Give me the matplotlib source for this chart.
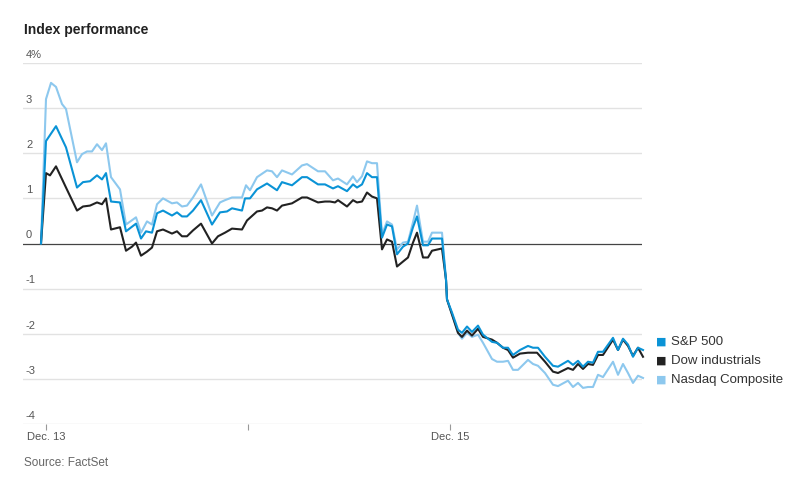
import matplotlib
matplotlib.use("Agg")
import matplotlib.pyplot as plt

plt.rcParams["font.family"] = ["Liberation Sans", "DejaVu Sans"]

# session clock: 202 units per trading session, Dec. 13 open at 46
SESSION_TICKS = [46, 248, 450]
SESSION_LABELS = ["Dec. 13", "", "Dec. 15"]
YTICKS = [4, 3, 2, 1, 0, -1, -2, -3, -4]

sp_t = [41, 46, 56, 66, 77, 83, 90, 97, 102, 106, 111, 120, 126, 136, 141, 146, 152, 157, 163, 172,
        177, 182, 187, 193, 201, 212, 220, 227, 232, 242, 245, 250, 257, 267, 277, 282, 292, 302, 307,
        318, 325, 333, 338, 347, 353, 357, 362, 367, 372, 377, 382, 387, 392, 397, 403, 408, 413, 417,
        423, 428, 432, 442, 446, 447, 452, 458, 462, 467, 472, 478, 483, 492, 497, 503, 508, 513, 520,
        528, 533, 538, 545, 553, 558, 568, 573, 578, 583, 588, 593, 598, 603, 613, 618, 623, 628, 633,
        638, 643]
sp_v = [0, 2.27, 2.6, 2.13, 1.24, 1.36, 1.38, 1.51, 1.42, 1.56, 0.93, 0.91, 0.27, 0.44, 0.11, 0.27,
        0.24, 0.67, 0.73, 0.62, 0.69, 0.6, 0.6, 0.73, 0.96, 0.42, 0.69, 0.71, 0.78, 0.73, 1.0, 1.0,
        1.2, 1.33, 1.18, 1.36, 1.29, 1.47, 1.47, 1.31, 1.31, 1.22, 1.27, 1.16, 1.31, 1.24, 1.31, 1.56,
        1.47, 1.47, 0.13, 0.42, 0.38, -0.24, -0.07, 0, 0.36, 0.6, -0.04, -0.04, 0.11, 0.11, -0.8,
        -1.24, -1.53, -1.91, -1.98, -1.84, -1.96, -1.82, -2.02, -2.18, -2.2, -2.31, -2.31, -2.47,
        -2.36, -2.27, -2.31, -2.31, -2.51, -2.71, -2.73, -2.6, -2.69, -2.6, -2.73, -2.62, -2.64, -2.4,
        -2.4, -2.09, -2.36, -2.11, -2.24, -2.51, -2.31, -2.36]

dow_t = [41, 46, 50, 56, 66, 77, 83, 90, 97, 102, 106, 111, 120, 126, 132, 136, 141, 147, 152, 157,
         163, 172, 177, 182, 187, 193, 201, 212, 218, 225, 232, 242, 247, 257, 262, 267, 272, 277, 282,
         292, 302, 307, 318, 325, 330, 335, 338, 347, 353, 357, 362, 367, 372, 377, 382, 387, 392, 397,
         403, 408, 413, 417, 423, 428, 432, 442, 446, 447, 453, 458, 462, 467, 472, 478, 483, 492, 497,
         503, 508, 513, 520, 528, 537, 545, 553, 558, 568, 573, 578, 583, 588, 593, 598, 603, 613, 618,
         623, 628, 633, 638, 643]
dow_v = [0, 1.56, 1.51, 1.71, 1.24, 0.73, 0.82, 0.84, 0.91, 0.87, 1.0, 0.31, 0.36, -0.16, -0.07,
         0.02, -0.27, -0.18, -0.09, 0.27, 0.31, 0.22, 0.27, 0.16, 0.16, 0.29, 0.44, 0.0, 0.16, 0.24,
         0.33, 0.31, 0.51, 0.71, 0.73, 0.8, 0.78, 0.73, 0.84, 0.89, 1.02, 1.02, 0.91, 0.93, 0.93, 0.91,
         0.96, 0.82, 0.96, 0.91, 0.93, 1.13, 1.04, 1.0, -0.13, 0.09, 0.04, -0.51, -0.4, -0.31, 0.02,
         0.24, -0.31, -0.31, -0.16, -0.11, -0.8, -1.24, -1.64, -1.98, -2.07, -1.93, -2.04, -1.89,
         -2.07, -2.13, -2.2, -2.31, -2.36, -2.53, -2.44, -2.42, -2.42, -2.62, -2.84, -2.87, -2.76,
         -2.8, -2.67, -2.78, -2.67, -2.69, -2.47, -2.47, -2.13, -2.36, -2.13, -2.27, -2.49, -2.31,
         -2.51]

nq_t = [41, 46, 51, 56, 62, 66, 77, 82, 87, 92, 97, 102, 106, 111, 120, 126, 136, 141, 147, 152, 157,
        163, 172, 177, 182, 187, 193, 201, 212, 220, 225, 232, 242, 246, 250, 257, 267, 272, 277, 282,
        292, 302, 307, 318, 325, 333, 338, 347, 353, 357, 362, 367, 372, 377, 382, 387, 392, 397, 403,
        408, 413, 417, 423, 428, 432, 442, 446, 447, 453, 458, 462, 467, 472, 478, 483, 492, 497, 503,
        508, 513, 518, 528, 533, 538, 545, 553, 558, 568, 573, 578, 583, 588, 593, 598, 603, 613, 618,
        623, 628, 633, 638, 643]
nq_v = [0, 3.2, 3.56, 3.47, 3.09, 2.98, 1.8, 1.98, 2.04, 2.04, 2.2, 2.07, 2.22, 1.47, 1.2, 0.42,
        0.58, 0.24, 0.49, 0.42, 0.87, 1.0, 0.89, 0.91, 0.82, 0.84, 1.02, 1.31, 0.62, 0.91, 0.96, 1.02,
        1.02, 1.29, 1.18, 1.47, 1.62, 1.6, 1.47, 1.62, 1.53, 1.73, 1.76, 1.6, 1.6, 1.4, 1.44, 1.31,
        1.49, 1.36, 1.49, 1.82, 1.78, 1.78, 0.2, 0.49, 0.42, -0.13, 0.02, 0.04, 0.47, 0.84, 0.04, 0.04,
        0.24, 0.24, -0.8, -1.24, -1.64, -1.98, -2.11, -1.98, -2.07, -2.02, -2.2, -2.56, -2.62, -2.62,
        -2.6, -2.8, -2.8, -2.58, -2.67, -2.71, -2.87, -3.13, -3.16, -3.04, -3.18, -3.09, -3.2, -3.18,
        -3.18, -2.91, -2.96, -2.62, -2.91, -2.67, -2.87, -3.09, -2.93, -2.98]

SERIES = [
    ("S&P 500", sp_t, sp_v, "#0a93d6"),
    ("Dow industrials", dow_t, dow_v, "#222222"),
    ("Nasdaq Composite", nq_t, nq_v, "#8dc8ee"),
]

W, H = 800, 483
fig = plt.figure(figsize=(W / 100, H / 100), dpi=100)
ax = fig.add_axes([23 / W, (H - 424) / H, (642 - 23) / W, (424 - 63) / H])
ax.set_xlim(23, 642)
ax.set_ylim(-4, 4)
for s in ax.spines.values():
    s.set_visible(False)
ax.set_yticks([])
ax.set_xticks(SESSION_TICKS)
ax.set_xticklabels(SESSION_LABELS)
ax.tick_params(axis="x", length=4, color="#999999", labelcolor="#555555", labelsize=8, pad=2)

for y in YTICKS:
    if y == 0:
        ax.axhline(y, color="#444444", lw=0.9, zorder=2)
    else:
        ax.axhline(y, color="#e2e2e2", lw=1, zorder=1)
    lab = f"{y}%" if y == 4 else str(y)
    ax.text(26, y + 0.07, lab, fontsize=8, color="#555555", ha="left", va="bottom")

for name, t, v, c in reversed(SERIES):
    ax.plot(t, v, color=c, lw=1.5, zorder=3, clip_on=False)

for i, (name, t, v, c) in enumerate(SERIES):
    y = 342 + 19 * i
    fig.text(656 / W, 1 - y / H, "■", color=c, fontsize=8, va="center", ha="left",
             family="DejaVu Sans")
    fig.text(671 / W, 1 - y / H, name, color="#333333", fontsize=9.5, va="center", ha="left")

fig.text(24 / W, 1 - 30 / H, "Index performance", fontsize=10, fontweight="bold",
         color="#222222", va="center")
fig.text(24 / W, 1 - 463 / H, "Source: FactSet", fontsize=8.5, color="#666666", va="center")

fig.savefig("out.png", dpi=100)
